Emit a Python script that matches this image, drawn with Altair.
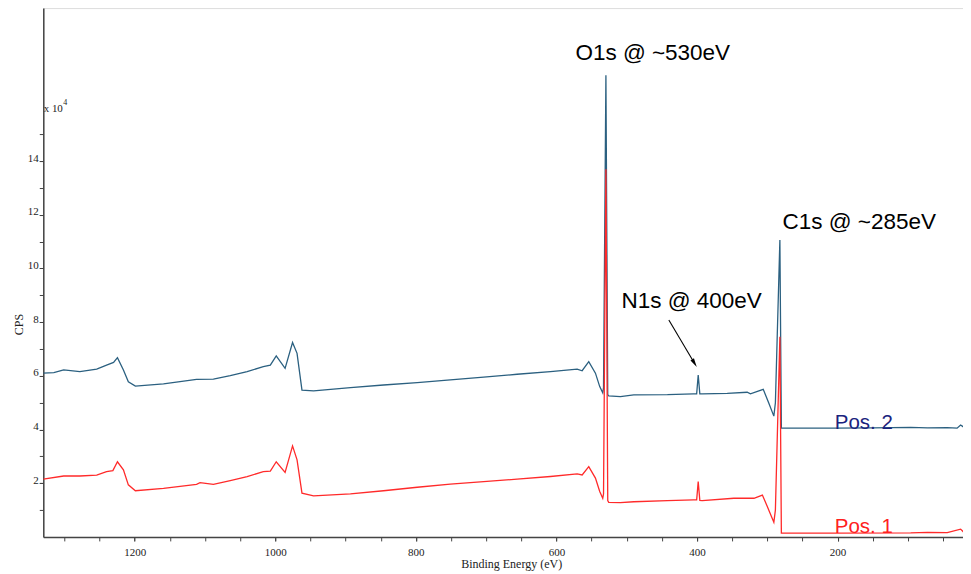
import altair as alt
import pandas as pd

# ---- data (Binding energy in eV, CPS in units of 1e4) ----
pos2_ev = [1330, 1315, 1301, 1278, 1254, 1240, 1230, 1224.5, 1216, 1209, 1199, 1159, 1112, 1088,
           1064, 1040, 1017, 1007, 998.6, 986, 975.4, 969, 962, 945.5, 893, 846, 798, 751, 703.5,
           656, 608.5, 570.5, 563.4, 554, 544.5, 538.4, 534.1, 533, 529.6, 527, 525.6, 509, 490,
           442, 405, 400.5, 398.3, 396, 392.6, 357, 328.6, 324, 305.8, 297.8, 290.7, 288.5, 282.1,
           280, 250, 205, 150, 96, 72, 44, 30, 25, 20, 10]
pos2_cps = [6.10, 6.12, 6.22, 6.16, 6.25, 6.40, 6.50, 6.68, 6.22, 5.78, 5.62, 5.70, 5.87, 5.88,
            6.01, 6.16, 6.34, 6.40, 6.74, 6.28, 7.24, 6.84, 5.47, 5.44, 5.56, 5.66, 5.75, 5.85, 5.95,
            6.06, 6.16, 6.25, 6.19, 6.53, 6.10, 5.60, 5.37, 5.55, 17.2, 5.30, 5.25, 5.23, 5.29,
            5.30, 5.33, 5.33, 6.03, 5.33, 5.33, 5.35, 5.39, 5.33, 5.50, 4.98, 4.50, 5.00, 11.06,
            4.05, 4.05, 4.05, 4.06, 4.08, 4.06, 4.07, 4.05, 4.17, 4.08, 4.03]

pos1_ev = [1330, 1301, 1278, 1254, 1240, 1231, 1224.5, 1216, 1209, 1199, 1159, 1112, 1107, 1088,
           1064, 1040, 1017, 1007, 998.6, 986, 975.4, 969, 962, 945.5, 893, 846, 798, 751, 703.5,
           656, 608.5, 570.5, 563.4, 554, 544.5, 538.4, 534.1, 533, 529.6, 527, 525.6, 509, 490,
           442, 405, 400.5, 398.3, 396, 392.6, 347.6, 319, 307, 300, 290.7, 288.5, 282.1, 280,
           205, 96, 72, 44, 25, 20, 10]
pos1_cps = [2.15, 2.27, 2.27, 2.30, 2.43, 2.47, 2.80, 2.50, 1.94, 1.72, 1.81, 1.96, 2.02, 1.96,
            2.10, 2.25, 2.43, 2.45, 2.80, 2.40, 3.39, 2.87, 1.63, 1.53, 1.60, 1.72, 1.85, 1.97, 2.06,
            2.15, 2.25, 2.35, 2.31, 2.62, 2.19, 1.69, 1.44, 1.60, 13.7, 1.35, 1.29, 1.28, 1.31,
            1.35, 1.38, 1.38, 2.06, 1.36, 1.35, 1.44, 1.44, 1.56, 1.13, 0.55, 1.00, 7.46, 0.14,
            0.14, 0.15, 0.17, 0.16, 0.29, 0.16, 0.15]

x_major = [1200, 1000, 800, 600, 400, 200]
x_minor = list(range(1300, 49, -50))
y_major = [2, 4, 6, 8, 10, 12, 14]
y_minor = list(range(1, 16))

ann_text = ["O1s @ ~530eV", "C1s @ ~285eV", "N1s @ 400eV"]
ann_ev = [573, 278.3, 507.5]
ann_cps = [17.77, 11.47, 8.52]

label_text = ["Pos. 2", "Pos. 1"]
label_ev = [204, 204]
label_cps = [4.02, 0.15]
label_color = ["#1a237e", "#ff2020"]

arrow_ev = [440.1, 403.6]
arrow_cps = [8.08, 6.47]

BLUE = "#2b6080"
RED = "#ff2a2a"
AX = "#444"
TXT = "#222"
SERIF = "Liberation Serif"

d2 = pd.DataFrame({"ev": pos2_ev, "cps": pos2_cps, "i": range(len(pos2_ev))})
d1 = pd.DataFrame({"ev": pos1_ev, "cps": pos1_cps, "i": range(len(pos1_ev))})

xscale = alt.Scale(domain=[21.6, 1330], reverse=True, nice=False, zero=False)
yscale = alt.Scale(domain=[0, 19.7], nice=False, zero=True)

xaxis_major = alt.Axis(orient="bottom", values=x_major, format="d",
                       title="Binding Energy (eV)", grid=False, tickSize=4, tickColor=AX,
                       domainColor=AX, domainWidth=1.5, labelFont=SERIF,
                       labelFontSize=11, labelColor=TXT, labelPadding=6,
                       titleFont=SERIF, titleFontSize=12,
                       titleFontWeight="normal", titleColor=TXT, titlePadding=1, titleX=468)
xaxis_minor = alt.Axis(orient="bottom", values=x_minor, labels=False, title=None, grid=False,
                       tickSize=4, tickColor=AX, domain=False)
yaxis_major = alt.Axis(orient="left", values=y_major, format="d",
                       title="CPS", grid=False, tickSize=4, tickColor=AX, domainColor=AX,
                       domainWidth=1.5, labelFont=SERIF, labelFontSize=11,
                       labelColor=TXT, labelPadding=1, labelBaseline="alphabetic",
                       titleFont=SERIF, titleFontSize=12, titleFontWeight="normal",
                       titleColor=TXT, titleX=-21, titleY=316, titleBaseline="alphabetic",
                       titleAlign="center", titleAngle=270)
yaxis_minor = alt.Axis(orient="left", values=y_minor, labels=False, title=None, grid=False,
                       tickSize=4, tickColor=AX, domain=False)

line2 = alt.Chart(d2).mark_line(color=BLUE, strokeWidth=1.3, clip=True).encode(
    x=alt.X("ev:Q", scale=xscale, axis=xaxis_major),
    y=alt.Y("cps:Q", scale=yscale, axis=yaxis_major),
    order="i:Q",
)
line1 = alt.Chart(d1).mark_line(color=RED, strokeWidth=1.3, clip=True).encode(
    x=alt.X("ev:Q", scale=xscale, axis=xaxis_minor),
    y=alt.Y("cps:Q", scale=yscale, axis=yaxis_minor),
    order="i:Q",
)

ann_df = pd.DataFrame({"t": ann_text, "ev": ann_ev, "cps": ann_cps})
ann = alt.Chart(ann_df).mark_text(align="left", baseline="alphabetic", font="Liberation Sans",
                                  fontSize=22.5, color="#000").encode(
    x=alt.X("ev:Q", scale=xscale, axis=None), y=alt.Y("cps:Q", scale=yscale, axis=None),
    text="t:N")

lab_df = pd.DataFrame({"t": label_text, "ev": label_ev, "cps": label_cps, "c": label_color})
labs = alt.Chart(lab_df).mark_text(align="left", baseline="alphabetic", font="Liberation Sans",
                                   fontSize=20.5).encode(
    x=alt.X("ev:Q", scale=xscale, axis=None), y=alt.Y("cps:Q", scale=yscale, axis=None),
    text="t:N", color=alt.Color("c:N", scale=None))

arr_df = pd.DataFrame({"ev": [arrow_ev[0]], "cps": [arrow_cps[0]],
                       "ev2": [arrow_ev[1]], "cps2": [arrow_cps[1]]})
arrow_line = alt.Chart(arr_df).mark_rule(color="#000", strokeWidth=1.1).encode(
    x=alt.X("ev:Q", scale=xscale, axis=None), y=alt.Y("cps:Q", scale=yscale, axis=None),
    x2="ev2:Q", y2="cps2:Q")
head_df = pd.DataFrame({"ev": [arrow_ev[1]], "cps": [arrow_cps[1]]})
arrow_head = alt.Chart(head_df).mark_point(shape="M0,-1L0.45,1L-0.45,1Z", angle=149.3, size=80,
                                           filled=True, color="#000", opacity=1,
                                           strokeWidth=0).encode(
    x=alt.X("ev:Q", scale=xscale, axis=None), y=alt.Y("cps:Q", scale=yscale, axis=None))

exp_df = pd.DataFrame({"t": ["x 10", "4"], "ev": [1329.5, 1301.5], "cps": [15.84, 16.1],
                       "s": [11, 8]})
exp_txt = alt.Chart(exp_df).mark_text(align="left", baseline="alphabetic",
                                      font=SERIF, color=TXT).encode(
    x=alt.X("ev:Q", scale=xscale, axis=None), y=alt.Y("cps:Q", scale=yscale, axis=None),
    text="t:N", size=alt.Size("s:Q", scale=None, legend=None))

chart = alt.layer(line2, line1, ann, labs, arrow_line, arrow_head, exp_txt).resolve_axis(
    x="independent", y="independent"
).properties(
    width=920, height=529,
    autosize=alt.AutoSizeParams(type="none"),
    padding={"left": 35.3, "top": 0, "right": 0, "bottom": 36},
).configure_view(stroke=None).configure(background="white")

chart.save("out.html", embed_options={"renderer": "svg", "actions": False})
